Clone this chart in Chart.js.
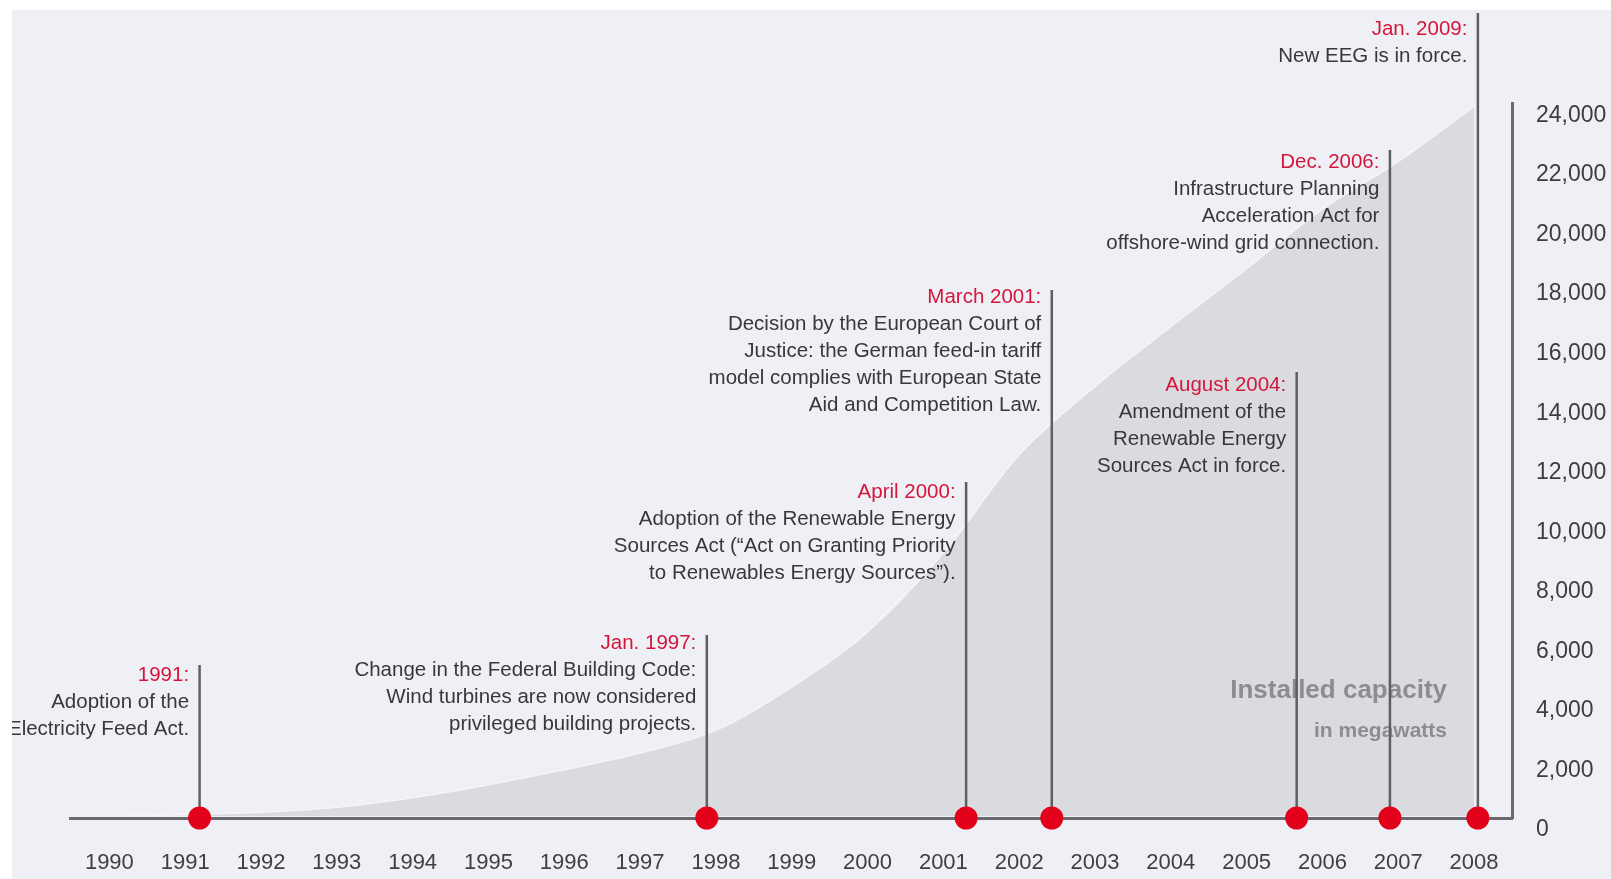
<!DOCTYPE html>
<html>
<head>
<meta charset="utf-8">
<title>Wind power in Germany</title>
<script src="https://cdn.jsdelivr.net/npm/chart.js@4.4.1/dist/chart.umd.min.js"></script>
<style>
    html, body { margin: 0; padding: 0; background: #ffffff; }
    #wrap {
        position: absolute;
        left: 12px;
        top: 10px;
        width: 1599px;
        height: 869px;
        background: #eff0f5;
    }
</style>
</head>
<body>
<div id="wrap"><canvas id="capacityChart"></canvas></div>
<script>
// Installed wind capacity (MW)
const years = [1990, 1991, 1992, 1993, 1994, 1995, 1996, 1997, 1998, 1999,
               2000, 2001, 2002, 2003, 2004, 2005, 2006, 2007, 2008];
const capacity = [60, 110, 190, 360, 680, 1120, 1620, 2180, 2950, 4400,
                  6250, 8900, 12200, 14500, 16500, 18450, 20450, 22050, 23900];
const yTicks = [0, 2000, 4000, 6000, 8000, 10000, 12000, 14000, 16000, 18000, 20000, 22000, 24000];

// Milestones, placed on the time axis where the picture puts them
const eventDates = [1991.19, 1997.88, 2001.30, 2002.43, 2005.66, 2006.89, 2008.05];
const eventTitles = ['1991:', 'Jan. 1997:', 'April 2000:', 'March 2001:', 'August 2004:', 'Dec. 2006:', 'Jan. 2009:'];
const eventTexts = [
    ['Adoption of the', 'Electricity Feed Act.'],
    ['Change in the Federal Building Code:', 'Wind turbines are now considered', 'privileged building projects.'],
    ['Adoption of the Renewable Energy', 'Sources Act (\u201CAct on Granting Priority', 'to Renewables Energy Sources\u201D).'],
    ['Decision by the European Court of', 'Justice: the German feed-in tariff', 'model complies with European State', 'Aid and Competition Law.'],
    ['Amendment of the', 'Renewable Energy', 'Sources Act in force.'],
    ['Infrastructure Planning', 'Acceleration Act for', 'offshore-wind grid connection.'],
    ['New EEG is in force.']
];

// annotation layout (canvas pixels): top of each marker line, and gap to first text line
const lineTops = [655, 625, 472, 280, 362, 140, 3];
const textDrop = [10, 8, 10, 7, 13, 12, 16];

const FONT = "'Liberation Sans', Arial, sans-serif";
const RED = '#d3173b';
const INK = '#38383b';

// Draws the caption and the milestone lines/labels between the area and the red dots
const milestonePlugin = {
    id: 'milestones',
    beforeDatasetDraw(chart, args) {
        if (args.index !== 0) return;
        const ctx = chart.ctx;
        const x = chart.scales.x;
        const y = chart.scales.y;
        const area = chart.chartArea;
        ctx.save();

        // caption inside the area
        ctx.textAlign = 'right';
        ctx.textBaseline = 'middle';
        ctx.fillStyle = '#8c8d91';
        ctx.font = 'bold 26px ' + FONT;
        ctx.fillText('Installed capacity', area.right - 65, 681);
        ctx.font = 'bold 21px ' + FONT;
        ctx.fillText('in megawatts', area.right - 65, 721);

        eventDates.forEach(function(d, i) {
            const px = x.getPixelForValue(d);
            const base = y.getPixelForValue(0);
            ctx.strokeStyle = '#5f5f63';
            ctx.lineWidth = 2.5;
            ctx.beginPath();
            ctx.moveTo(px, base);
            ctx.lineTo(px, lineTops[i]);
            ctx.stroke();

            const tx = px - 10.5;
            let ty = lineTops[i] + textDrop[i];
            ctx.font = '20.5px ' + FONT;
            ctx.fillStyle = RED;
            ctx.fillText(eventTitles[i], tx, ty);
            ctx.fillStyle = INK;
            eventTexts[i].forEach(function(line) {
                ty += 27;
                ctx.fillText(line, tx, ty);
            });
        });
        ctx.restore();
    }
};

Chart.defaults.font.family = FONT;

new Chart(document.getElementById('capacityChart'), {
    type: 'line',
    data: {
        datasets: [{
            // red milestone dots on the baseline
            data: eventDates.map(function(d) { return {x: d, y: 0}; }),
            showLine: false,
            pointRadius: 11.5,
            pointHoverRadius: 11.5,
            pointBackgroundColor: '#e2001a',
            pointBorderWidth: 0,
            clip: false
        }, {
            // installed capacity area
            data: years.map(function(yr, i) { return {x: yr, y: capacity[i]}; }),
            fill: 'origin',
            backgroundColor: '#dadbdf',
            borderColor: '#f5f5f8',
            borderWidth: 1.5,
            pointRadius: 0,
            cubicInterpolationMode: 'monotone',
            clip: {left: 0, top: 0, right: 0, bottom: -2}
        }]
    },
    options: {
        responsive: true,
        maintainAspectRatio: false,
        animation: false,
        layout: {
            padding: {left: 58.7, top: 93.5, right: 0, bottom: 0}
        },
        plugins: {
            legend: { display: false },
            tooltip: { enabled: false }
        },
        scales: {
            x: {
                type: 'linear',
                min: 1989.49,
                max: 2008.5,
                afterBuildTicks: function(scale) {
                    scale.ticks = years.map(function(v) { return {value: v}; });
                },
                afterFit: function(scale) { scale.height = 61; },
                grid: { display: false, drawTicks: false },
                border: { display: true, color: '#6a6a6e', width: 3 },
                ticks: {
                    padding: 32,
                    autoSkip: false,
                    maxRotation: 0,
                    color: '#404043',
                    font: { size: 22 },
                    callback: function(v) { return String(v); }
                }
            },
            y: {
                position: 'right',
                min: 0,
                max: 24000,
                afterBuildTicks: function(scale) {
                    scale.ticks = yTicks.map(function(v) { return {value: v}; });
                },
                afterFit: function(scale) { scale.width = 99; },
                grid: { display: false, drawTicks: false },
                border: { display: true, color: '#6a6a6e', width: 3 },
                ticks: {
                    padding: 24,
                    labelOffset: 12,
                    color: '#3d3d40',
                    font: { size: 23 },
                    callback: function(v) { return v.toLocaleString('en-US'); }
                }
            }
        }
    },
    plugins: [milestonePlugin]
});
</script>
</body>
</html>
